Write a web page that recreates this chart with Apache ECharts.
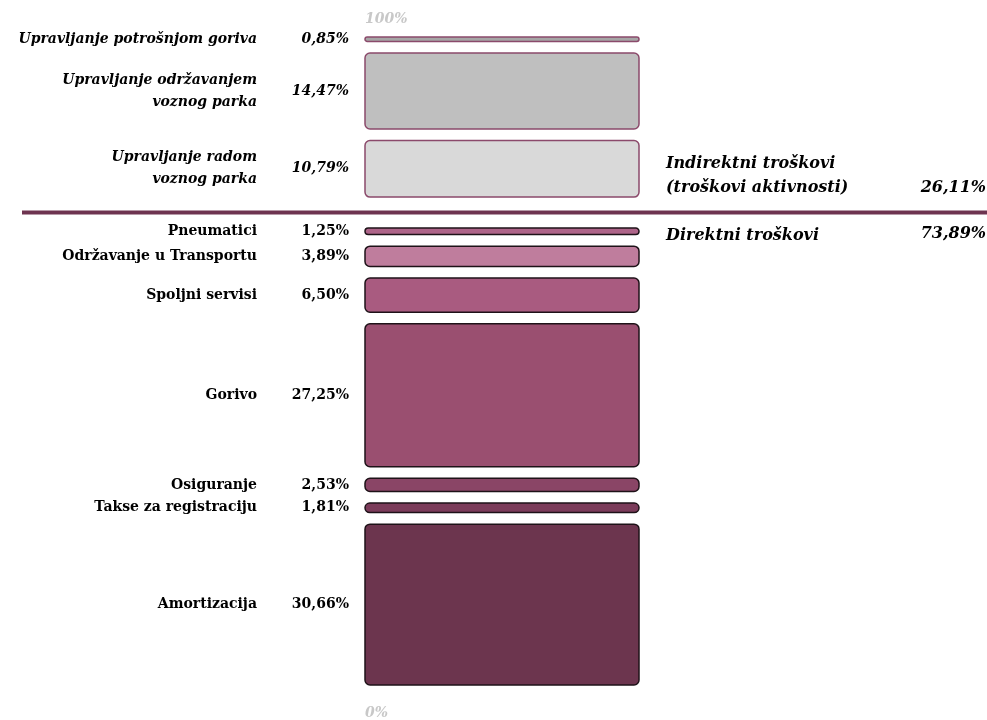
<!DOCTYPE html>
<html>
<head>
<meta charset="utf-8">
<script src="https://cdn.jsdelivr.net/npm/echarts@6/dist/echarts.min.js"></script>
<style>
  html, body { margin: 0; padding: 0; background: #ffffff; }
  #chart { width: 987px; height: 720px; }
</style>
</head>
<body>
<div id="chart"></div>
<script>
// Cost items, listed from the bottom of the column upwards
const categories = [
  'Amortizacija',
  'Takse za registraciju',
  'Osiguranje',
  'Gorivo',
  'Spoljni servisi',
  'Održavanje u Transportu',
  'Pneumatici',
  'Upravljanje radom\nvoznog parka',
  'Upravljanje održavanjem\nvoznog parka',
  'Upravljanje potrošnjom goriva'
];
const shares = [30.66, 1.81, 2.53, 27.25, 6.50, 3.89, 1.25, 10.79, 14.47, 0.85];
// 0 = direct cost, 1 = indirect cost
const costType = [0, 0, 0, 0, 0, 0, 0, 1, 1, 1];
const groupLabels = ['Direktni troškovi', 'Indirektni troškovi\n(troškovi aktivnosti)'];
const groupTotals = [73.89, 26.11];
const axisLabels = ['0%', '100%'];

// Styling
const fills = ['#6c354e', '#7b3b5a', '#8a4566', '#9a4f70', '#a95b80', '#bf7d9d', '#ae6489',
               '#d9d9d9', '#bfbfbf', '#a6a6a6'];
const DIRECT_BORDER = '#1e1218';
const INDIRECT_BORDER = '#8b4a6b';
const SEP_COLOR = '#6e3450';
const FONT = '"DejaVu Serif", serif';

// Spacing between stacked pieces, in axis units
const GAP = 2.2;
const GROUP_GAP = 5.9;

// Build [start, end, index] for each piece, leaving room for the gaps
const items = [];
let cursor = 0;
shares.forEach((v, i) => {
  if (i > 0) cursor += (costType[i] !== costType[i - 1]) ? GROUP_GAP : GAP;
  items.push([cursor, cursor + v, i]);
  cursor += v;
});
const TOTAL = cursor;

const fmt = v => v.toFixed(2).replace('.', ',') + '%';

function renderItem(params, api) {
  const i = api.value(2);
  const lo = api.coord([0, api.value(0)]);
  const hi = api.coord([1, api.value(1)]);
  const x = lo[0], w = hi[0] - lo[0];
  const y = hi[1], h = lo[1] - hi[1];
  const cy = y + h / 2;
  const indirect = costType[i] === 1;
  const children = [];

  children.push({
    type: 'rect',
    shape: { x: x, y: y, width: w, height: h, r: Math.min(5, h / 2) },
    style: {
      fill: fills[i],
      stroke: indirect ? INDIRECT_BORDER : DIRECT_BORDER,
      lineWidth: 1.5
    }
  });
  const textStyle = {
    fontFamily: FONT,
    fontWeight: 'bold',
    fontStyle: indirect ? 'italic' : 'normal',
    fontSize: 14,
    fill: '#000000',
    align: 'right',
    verticalAlign: 'middle',
    lineHeight: 22
  };
  children.push({
    type: 'text',
    style: Object.assign({}, textStyle, { text: categories[i], x: x - 108, y: cy })
  });
  children.push({
    type: 'text',
    style: Object.assign({}, textStyle, { text: fmt(shares[i]), x: x - 16, y: cy })
  });

  // Separator between direct and indirect costs, with the group totals
  if (indirect && costType[i - 1] === 0) {
    const gapPx = api.size([0, GROUP_GAP])[1];
    const sepY = lo[1] + gapPx / 2;
    children.push({
      type: 'rect',
      shape: { x: 22, y: sepY - 2, width: 965, height: 4 },
      style: { fill: SEP_COLOR }
    });
    const groupStyle = {
      fontFamily: FONT, fontWeight: 'bold', fontStyle: 'italic',
      fontSize: 16, fill: '#000000', verticalAlign: 'middle', lineHeight: 24
    };
    children.push({ type: 'text', style: Object.assign({}, groupStyle,
      { text: groupLabels[1], x: x + 301, y: sepY - 37, align: 'left' }) });
    children.push({ type: 'text', style: Object.assign({}, groupStyle,
      { text: fmt(groupTotals[1]), x: 986, y: sepY - 25, align: 'right' }) });
    children.push({ type: 'text', style: Object.assign({}, groupStyle,
      { text: groupLabels[0], x: x + 301, y: sepY + 23, align: 'left' }) });
    children.push({ type: 'text', style: Object.assign({}, groupStyle,
      { text: fmt(groupTotals[0]), x: 986, y: sepY + 21, align: 'right' }) });
  }

  // Scale end labels
  const endStyle = {
    fontFamily: FONT, fontWeight: 'bold', fontStyle: 'italic',
    fontSize: 14, fill: '#c8c8c8', align: 'left', verticalAlign: 'middle'
  };
  if (i === 0) {
    const base = api.coord([0, 0]);
    children.push({ type: 'text', style: Object.assign({}, endStyle,
      { text: axisLabels[0], x: base[0], y: base[1] + 28 }) });
  }
  if (i === shares.length - 1) {
    const top = api.coord([0, TOTAL]);
    children.push({ type: 'text', style: Object.assign({}, endStyle,
      { text: axisLabels[1], x: top[0], y: top[1] - 18 }) });
  }
  return { type: 'group', children: children };
}

const chart = echarts.init(document.getElementById('chart'), null, { renderer: 'canvas' });
chart.setOption({
  animation: false,
  backgroundColor: '#ffffff',
  grid: { left: 365, right: 348, top: 37, bottom: 35 },
  xAxis: { type: 'value', min: 0, max: 1, show: false },
  yAxis: { type: 'value', min: 0, max: TOTAL, show: false },
  series: [{
    type: 'custom',
    renderItem: renderItem,
    clip: false,
    encode: { x: -1, y: [0, 1] },
    data: items
  }]
});
</script>
</body>
</html>
